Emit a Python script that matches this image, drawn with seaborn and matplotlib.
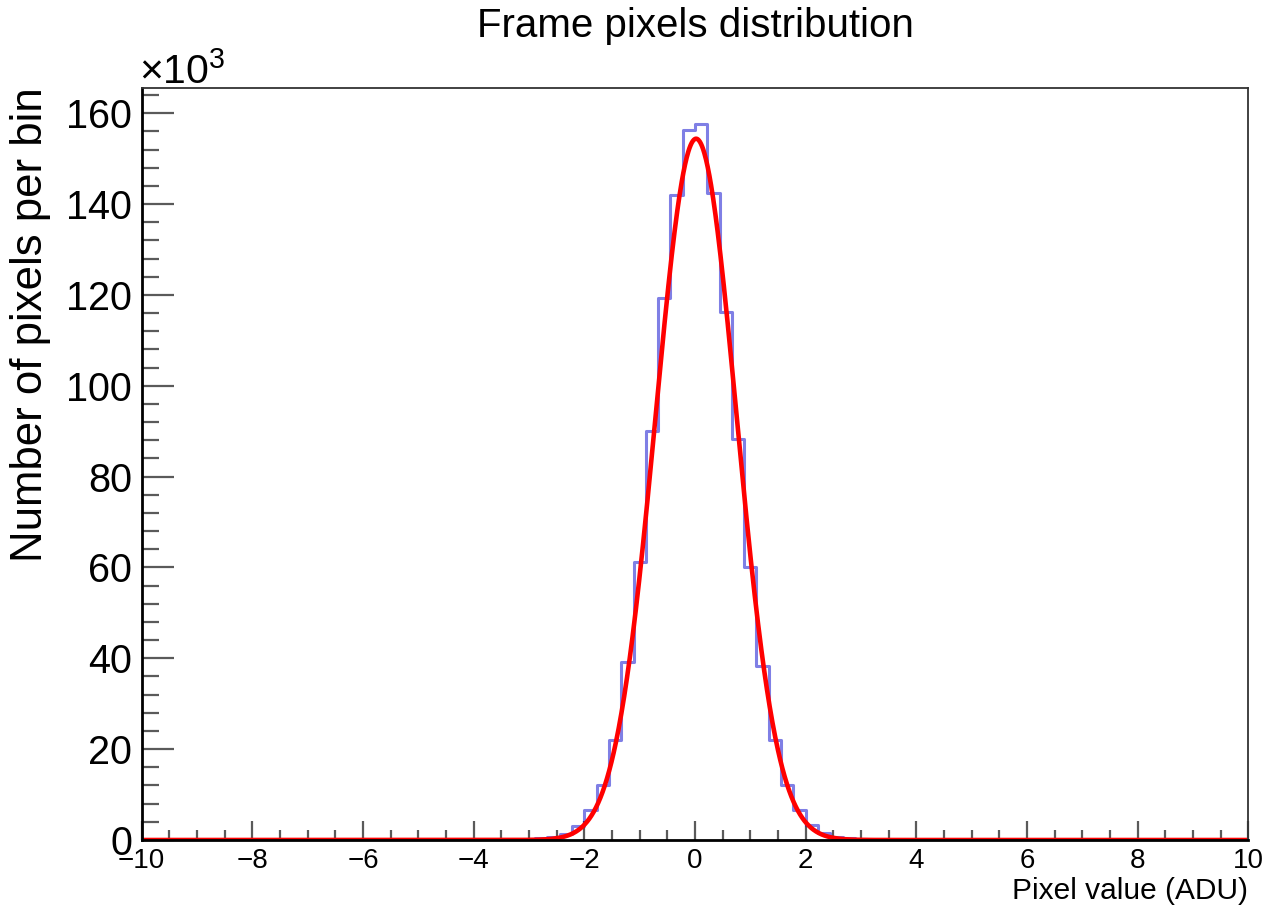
import numpy as np
import pandas as pd
import matplotlib
matplotlib.use("Agg")
import matplotlib.pyplot as plt
import seaborn as sns
from matplotlib.ticker import MultipleLocator, FixedLocator

# ---------------- data ----------------
x_min, x_max, n_bins = -10.0, 10.0, 90
first_nonzero_bin = 31          # bin [-3.11, -2.89]
counts_k = [0.15, 0.35, 0.7, 1.4, 3.0, 6.6, 12.1, 22.0, 39.1, 61.2,
            90.0, 119.3, 142.1, 156.4, 157.7, 142.4, 116.3, 88.2, 60.2, 38.3,
            22.0, 12.1, 6.5, 3.3, 1.5, 0.7, 0.35, 0.18, 0.08]
fit_constant_k = 154.4
fit_mean = 0.02
fit_sigma = 0.73
x_ticks = [-10, -8, -6, -4, -2, 0, 2, 4, 6, 8, 10]
y_ticks = [0, 20, 40, 60, 80, 100, 120, 140, 160]
title = "Frame pixels distribution"
xlabel = "Pixel value (ADU)"
ylabel = "Number of pixels per bin"

# ---------------- build ----------------
edges = np.linspace(x_min, x_max, n_bins + 1)
all_counts = np.zeros(n_bins)
all_counts[first_nonzero_bin:first_nonzero_bin + len(counts_k)] = counts_k
centers = 0.5 * (edges[:-1] + edges[1:])
df = pd.DataFrame({"value": centers, "count": all_counts})

sns.set_style("white")
plt.rcParams["font.family"] = ["Liberation Sans", "DejaVu Sans"]
plt.rcParams["mathtext.fontset"] = "custom"
plt.rcParams["mathtext.rm"] = "Liberation Sans"
plt.rcParams["mathtext.it"] = "Liberation Sans"
plt.rcParams["text.color"] = "black"
plt.rcParams["xtick.color"] = "black"
plt.rcParams["ytick.color"] = "black"

W, H = 1269, 907
fig = plt.figure(figsize=(W / 100, H / 100), dpi=100)
L, R, T, B = 141.7, 1248.3, 88.3, 840.0
ax = fig.add_axes([L / W, (H - B) / H, (R - L) / W, (B - T) / H])

sns.histplot(data=df, x="value", weights="count", bins=n_bins,
             binrange=(x_min, x_max), element="step",
             fill=False, color="#0000cc", alpha=0.5, linewidth=2.2, ax=ax)

xf = np.linspace(x_min, x_max, 2001)
yf = fit_constant_k * np.exp(-0.5 * ((xf - fit_mean) / fit_sigma) ** 2)
sns.lineplot(x=xf, y=yf, color="red", linewidth=3.3, ax=ax)

ax.set_xlim(x_min, x_max)
ax.set_ylim(0, 165.5)
ax.set_xlabel("")
ax.set_ylabel("")

ax.xaxis.set_major_locator(FixedLocator(x_ticks))
ax.xaxis.set_minor_locator(MultipleLocator(0.5))
ax.yaxis.set_major_locator(FixedLocator(y_ticks))
ax.yaxis.set_minor_locator(MultipleLocator(4))
ax.set_xticklabels([str(t).replace("-", "\u2212") for t in x_ticks])
ax.set_yticklabels([str(t) for t in y_ticks])

tick_col = "#5a5a5a"
ax.tick_params(axis="y", which="major", direction="in", length=23, width=1.6,
               color=tick_col, labelcolor="black", labelsize=28.5, pad=7,
               left=True, right=False)
ax.tick_params(axis="y", which="minor", direction="in", length=12, width=1.6,
               color=tick_col, left=True, right=False)
ax.tick_params(axis="x", which="major", direction="in", length=13.5, width=1.6,
               color=tick_col, labelcolor="black", labelsize=20, pad=6,
               bottom=True, top=False)
ax.tick_params(axis="x", which="minor", direction="in", length=7, width=1.6,
               color=tick_col, bottom=True, top=False)

for s in ["left", "bottom"]:
    ax.spines[s].set_linewidth(2.0)
    ax.spines[s].set_color("black")
for s in ["top", "right"]:
    ax.spines[s].set_linewidth(1.3)
    ax.spines[s].set_color("#333333")
    ax.spines[s].set_visible(True)

fig.text(695 / W, (H - 37) / H, title, ha="center", va="baseline",
         fontsize=29, color="black")
fig.text(R / W, (H - 899) / H, xlabel, ha="right", va="baseline",
         fontsize=21.5, color="black")
fig.text(31 / W, (H - 87) / H, ylabel, rotation=90, ha="center", va="top",
         fontsize=31.5, color="black")
fig.text(139 / W, (H - 84) / H, r"$\times10^{3}$", ha="left", va="baseline",
         fontsize=29.5, color="black")

fig.savefig("out.png", dpi=100)
